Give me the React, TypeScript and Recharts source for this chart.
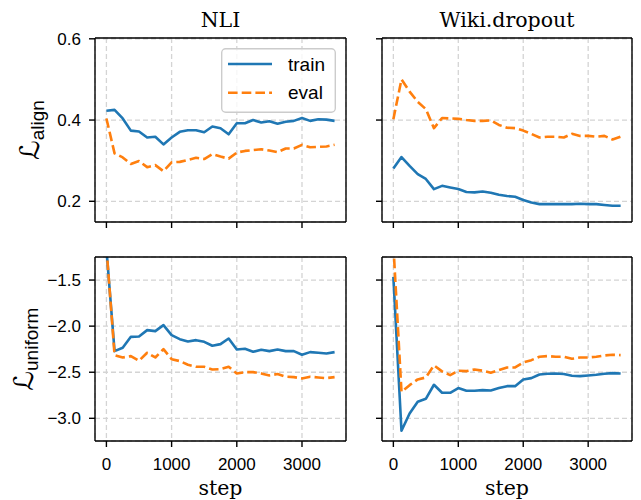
import React from 'react';
import { LineChart, Line, XAxis, YAxis, CartesianGrid, Legend } from 'recharts';

const steps = [0, 125, 250, 375, 500, 625, 750, 875, 1000, 1125, 1250, 1375, 1500, 1625, 1750, 1875, 2000, 2125, 2250, 2375, 2500, 2625, 2750, 2875, 3000, 3125, 3250, 3375, 3500];

const nliAlignTrain = [0.423, 0.425, 0.404, 0.374, 0.372, 0.357, 0.359, 0.340, 0.357, 0.371, 0.375, 0.375, 0.370, 0.384, 0.380, 0.365, 0.392, 0.392, 0.400, 0.394, 0.397, 0.391, 0.396, 0.398, 0.405, 0.398, 0.402, 0.401, 0.398];
const nliAlignEval = [0.404, 0.318, 0.308, 0.292, 0.299, 0.284, 0.289, 0.274, 0.296, 0.297, 0.302, 0.307, 0.304, 0.316, 0.310, 0.305, 0.320, 0.324, 0.326, 0.328, 0.325, 0.321, 0.330, 0.330, 0.339, 0.333, 0.334, 0.335, 0.339];
const wikiAlignTrain = [0.281, 0.309, 0.287, 0.267, 0.255, 0.230, 0.238, 0.234, 0.230, 0.223, 0.222, 0.224, 0.221, 0.216, 0.213, 0.211, 0.203, 0.197, 0.193, 0.193, 0.193, 0.193, 0.193, 0.194, 0.193, 0.193, 0.191, 0.189, 0.189];
const wikiAlignEval = [0.402, 0.500, 0.470, 0.445, 0.427, 0.380, 0.405, 0.404, 0.403, 0.400, 0.398, 0.398, 0.399, 0.388, 0.381, 0.380, 0.374, 0.366, 0.357, 0.359, 0.359, 0.357, 0.366, 0.361, 0.361, 0.359, 0.361, 0.352, 0.359];
const nliUniformTrain = [-1.16, -2.271, -2.235, -2.116, -2.112, -2.043, -2.054, -1.989, -2.098, -2.141, -2.166, -2.152, -2.170, -2.213, -2.195, -2.134, -2.253, -2.246, -2.278, -2.257, -2.271, -2.253, -2.271, -2.271, -2.311, -2.282, -2.289, -2.296, -2.282];
const nliUniformEval = [-1.14, -2.314, -2.340, -2.325, -2.376, -2.289, -2.340, -2.249, -2.358, -2.379, -2.419, -2.441, -2.441, -2.470, -2.466, -2.441, -2.513, -2.499, -2.499, -2.513, -2.535, -2.520, -2.549, -2.553, -2.567, -2.549, -2.557, -2.564, -2.553];
const wikiUniformTrain = [-1.465, -3.135, -2.947, -2.820, -2.788, -2.636, -2.723, -2.723, -2.672, -2.701, -2.701, -2.694, -2.698, -2.672, -2.651, -2.651, -2.578, -2.564, -2.524, -2.517, -2.513, -2.520, -2.538, -2.542, -2.535, -2.528, -2.517, -2.510, -2.513];
const wikiUniformEval = [-1.12, -2.712, -2.640, -2.578, -2.557, -2.426, -2.491, -2.531, -2.484, -2.488, -2.470, -2.484, -2.506, -2.477, -2.448, -2.448, -2.394, -2.369, -2.332, -2.325, -2.332, -2.332, -2.354, -2.340, -2.340, -2.332, -2.318, -2.311, -2.314];

const xTicks = [0, 1000, 2000, 3000];
const alignTicks = [0.2, 0.4, 0.6];
const uniformTicks = [-3.0, -2.5, -2.0, -1.5];
const columnTitles = ['NLI', 'Wiki.dropout'];
const seriesNames = ['train', 'eval'];

const W = 641;
const H = 500;
const YW = 80;
const XH = 50;
const X_DOMAIN: [number, number] = [-175, 3675];
const ALIGN_DOMAIN: [number, number] = [0.149, 0.602];
const UNIFORM_DOMAIN: [number, number] = [-3.246, -1.25];

const BLUE = '#1f77b4';
const ORANGE = '#ff7f0e';
const EVAL_DASH = '9.6 4.1';
const SANS = 'Liberation Sans, Arial, sans-serif';
const TICK_FONT = { fontFamily: SANS, fontSize: 17, fill: '#000' };
const AXIS_STROKE = { stroke: '#000', strokeWidth: 1.4 };

const toRows = (train: number[], ev: number[]) =>
    steps.map((step, i) => ({ step, train: train[i], eval: ev[i] }));

const fmt = (v: number) => v.toFixed(1).replace('-', '\u2212');

function LegendBox(props: any) {
    const payload = [...(props.payload || [])].sort(
        (a: any, b: any) => seriesNames.indexOf(a.value) - seriesNames.indexOf(b.value));
    return (
        <svg width={115} height={65}>
            <rect x={0.7} y={0.7} width={113.6} height={63.6} rx={4} fill="rgba(255,255,255,0.8)" stroke="#cccccc" strokeWidth={1.4} />
            {payload.map((entry: any, i: number) => {
                const cy = 16 + i * 28.7;
                const dash = entry.payload?.strokeDasharray;
                return (
                    <g key={entry.value}>
                        <line x1={7} x2={51} y1={cy} y2={cy} stroke={entry.color} strokeWidth={2.6} strokeDasharray={dash} />
                        <text x={67} y={cy} dy="0.35em" style={{ fontFamily: SANS, fontSize: 19, fill: '#000' }}>{entry.value}</text>
                    </g>
                );
            })}
        </svg>
    );
}

interface PanelProps {
    train: number[];
    ev: number[];
    box: [number, number, number, number]; // left, top, right, bottom of plot area
    yDomain: [number, number];
    yTicks: number[];
    showXLabels: boolean;
    showYLabels: boolean;
    legend?: boolean;
}

function Panel({ train, ev, box, yDomain, yTicks, showXLabels, showYLabels, legend }: PanelProps) {
    const [x0, y0, x1, y1] = box;
    const data = toRows(train, ev);
    return (
        <div style={{ position: 'absolute', left: 0, top: 0 }}>
            <LineChart width={W} height={H} data={data}
                margin={{ top: y0, left: x0 - YW, right: W - x1, bottom: H - y1 - XH }}>
                <CartesianGrid stroke="#d4d4d4" strokeWidth={1.3} strokeDasharray="5 3" />
                <XAxis dataKey="step" type="number" domain={X_DOMAIN} ticks={xTicks} allowDataOverflow
                    height={XH} tickSize={6} tickMargin={11} axisLine={AXIS_STROKE} tickLine={AXIS_STROKE}
                    tick={TICK_FONT} tickFormatter={(v: number) => (showXLabels ? String(v) : '')} />
                <XAxis xAxisId="top" orientation="top" type="number" domain={X_DOMAIN} allowDataOverflow
                    mirror tick={false} tickLine={false} axisLine={AXIS_STROKE} />
                <YAxis type="number" domain={yDomain} ticks={yTicks} allowDataOverflow width={YW}
                    tickSize={6} tickMargin={8} axisLine={AXIS_STROKE} tickLine={AXIS_STROKE}
                    tick={TICK_FONT} tickFormatter={(v: number) => (showYLabels ? fmt(v) : '')} />
                <YAxis yAxisId="right" orientation="right" type="number" domain={yDomain} allowDataOverflow
                    mirror tick={false} tickLine={false} axisLine={AXIS_STROKE} />
                {legend && (
                    <Legend layout="vertical" align="center" verticalAlign="middle"
                        wrapperStyle={{ left: 221, top: 48, width: 115, height: 65 }}
                        content={(p: any) => <LegendBox {...p} />} />
                )}
                <Line dataKey="train" name="train" stroke={BLUE} strokeWidth={2.6} dot={false}
                    strokeLinejoin="round" isAnimationActive={false} />
                <Line dataKey="eval" name="eval" stroke={ORANGE} strokeWidth={2.6} dot={false}
                    strokeDasharray={EVAL_DASH} strokeLinejoin="round" isAnimationActive={false} />
            </LineChart>
        </div>
    );
}

const titleStyle = { fontFamily: 'DejaVu Serif, serif', fontSize: 20.5, fill: '#000' };
const calStyle = { fontFamily: 'DejaVu Sans, sans-serif', fontSize: 27, fill: '#000' };
const subStyle = { fontFamily: SANS, fontSize: 19, fill: '#000' };

export default function App() {
    return (
        <div style={{ position: 'absolute', left: 0, top: 0, width: W, height: H, background: '#fff', overflow: 'hidden' }}>
            <Panel train={nliAlignTrain} ev={nliAlignEval} box={[95, 38, 346, 222]}
                yDomain={ALIGN_DOMAIN} yTicks={alignTicks} showXLabels={false} showYLabels legend />
            <Panel train={wikiAlignTrain} ev={wikiAlignEval} box={[382, 38, 632, 222]}
                yDomain={ALIGN_DOMAIN} yTicks={alignTicks} showXLabels={false} showYLabels={false} />
            <Panel train={nliUniformTrain} ev={nliUniformEval} box={[95, 257, 346, 441]}
                yDomain={UNIFORM_DOMAIN} yTicks={uniformTicks} showXLabels showYLabels />
            <Panel train={wikiUniformTrain} ev={wikiUniformEval} box={[382, 257, 632, 441]}
                yDomain={UNIFORM_DOMAIN} yTicks={uniformTicks} showXLabels showYLabels={false} />
            <svg width={W} height={H} style={{ position: 'absolute', left: 0, top: 0, pointerEvents: 'none' }}>
                <text x={220.5} y={27} textAnchor="middle" style={titleStyle}>{columnTitles[0]}</text>
                <text x={507} y={27} textAnchor="middle" style={titleStyle}>{columnTitles[1]}</text>
                <text x={220.5} y={495} textAnchor="middle" style={titleStyle}>step</text>
                <text x={507} y={495} textAnchor="middle" style={titleStyle}>step</text>
                <text transform="translate(39,130) rotate(-90)" textAnchor="middle">
                    <tspan style={calStyle}>ℒ</tspan>
                    <tspan dy={5} style={subStyle}>align</tspan>
                </text>
                <text transform="translate(33,349) rotate(-90)" textAnchor="middle">
                    <tspan style={calStyle}>ℒ</tspan>
                    <tspan dy={5} style={subStyle}>uniform</tspan>
                </text>
            </svg>
        </div>
    );
}
